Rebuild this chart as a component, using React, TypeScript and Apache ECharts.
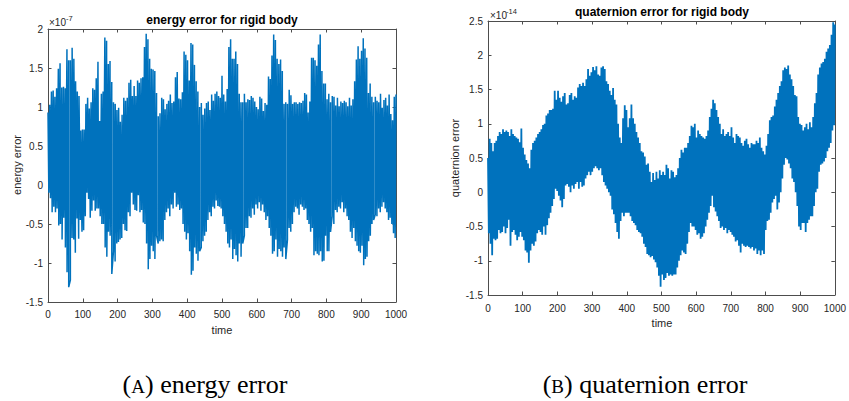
import React, { useEffect, useRef } from "react";
import * as echarts from "echarts";

// ---- data (upper / lower envelope samples, uniform in time 0..1000) ----
const energyHi = [
  0.93, 1.03, 1.2, 1.21, 1.13, 1.24, 1.49, 1.56, 1.25, 1.26, 1.24, 1.74, 1.6, 1.6, 1.76, 1.62, 1.33, 1.2, 1.14, 0.7,
  0.71, 0.71, 1.04, 1.12, 0.98, 1.06, 1.24, 1.22, 1.37, 1.58, 0.82, 1.17, 1.2, 1.89, 1.85, 1.55, 1.59, 1.32, 1.06, 1.04,
  0.96, 0.99, 0.81, 0.9, 1.12, 1.08, 1.12, 1.31, 1.35, 1.14, 1.27, 1.14, 1.34, 1.31, 1.37, 1.38, 1.77, 1.94, 1.87, 1.62,
  1.49, 1.48, 1.46, 1.18, 0.88, 0.92, 1.12, 1.1, 0.97, 1.04, 1.08, 1.16, 1.05, 1.07, 1.38, 1.45, 1.11, 1.1, 1.19, 1.71,
  1.67, 1.6, 1.34, 1.82, 1.8, 1.54, 1.33, 1.2, 1.0, 1.05, 0.9, 0.98, 1.05, 1.07, 0.96, 1.16, 1.08, 1.17, 1.2, 1.14,
  1.12, 1.4, 1.16, 1.07, 1.23, 1.77, 1.87, 1.62, 1.62, 1.71, 1.55, 1.17, 1.06, 1.06, 1.17, 1.06, 1.1, 1.09, 1.14, 1.12,
  1.07, 1.0, 0.97, 1.13, 1.11, 0.95, 1.05, 1.03, 1.39, 1.36, 1.66, 1.93, 1.86, 1.62, 1.55, 1.61, 1.46, 1.04, 1.06, 1.04,
  1.22, 1.15, 1.04, 1.06, 1.06, 1.04, 1.06, 1.05, 1.08, 1.18, 1.16, 0.93, 1.07, 1.63, 1.63, 1.6, 1.53, 1.8, 1.93, 1.46,
  1.3, 1.3, 1.1, 1.17, 1.06, 1.14, 1.13, 1.02, 1.12, 1.01, 1.07, 1.05, 1.08, 1.06, 1.01, 1.12, 1.02, 1.1, 1.33, 1.61,
  1.78, 1.62, 1.72, 1.88, 1.75, 1.63, 1.18, 1.3, 1.13, 1.06, 1.13, 1.08, 1.06, 1.17, 0.99, 1.09, 1.12, 1.02, 1.16, 0.91,
  0.83, 1.13, 1.16,
];
const energyLo = [
  -0.1, -0.17, -0.35, -0.28, -0.35, -0.3, -0.52, -0.5, -0.7, -0.42, -0.8, -1.12, -1.31, -1.22, -0.68, -0.7, -0.87, -0.43, -0.69, -0.45,
  -0.6, -0.58, -0.4, -0.1, -0.18, -0.42, -0.33, -0.2, -0.33, -0.3, -0.3, -0.4, -0.5, -0.5, -0.8, -0.92, -0.6, -0.65, -1.14, -0.85,
  -0.98, -0.75, -0.73, -0.7, -0.68, -0.5, -0.58, -0.59, -0.35, -0.4, -0.1, -0.25, -0.32, -0.33, -0.13, -0.35, -0.32, -0.48, -0.5, -0.75,
  -1.08, -0.95, -0.78, -0.85, -0.95, -0.65, -0.75, -0.72, -0.7, -0.72, -0.45, -0.35, -0.3, -0.4, -0.25, -0.3, -0.1, -0.28, -0.25, -0.32,
  -0.3, -0.5, -0.6, -0.7, -0.62, -0.85, -1.15, -1.1, -0.8, -0.88, -0.97, -0.85, -0.8, -0.72, -0.65, -0.6, -0.45, -0.35, -0.4, -0.28,
  -0.3, -0.2, -0.27, -0.28, -0.3, -0.4, -0.5, -0.6, -0.75, -0.8, -0.7, -0.95, -0.82, -0.9, -0.98, -0.75, -0.92, -0.75, -0.65, -0.55,
  -0.55, -0.4, -0.42, -0.3, -0.38, -0.25, -0.3, -0.22, -0.33, -0.25, -0.35, -0.45, -0.4, -0.55, -0.65, -0.88, -0.85, -0.7, -0.92, -0.82,
  -0.85, -0.92, -0.8, -0.95, -0.7, -0.55, -0.6, -0.5, -0.35, -0.28, -0.3, -0.38, -0.25, -0.28, -0.32, -0.3, -0.45, -0.5, -0.6, -0.55,
  -0.9, -0.85, -0.88, -0.9, -0.85, -0.98, -0.97, -0.65, -0.85, -0.85, -0.6, -0.4, -0.5, -0.32, -0.35, -0.28, -0.3, -0.22, -0.35, -0.3,
  -0.4, -0.45, -0.6, -0.68, -0.55, -0.72, -0.78, -0.85, -0.87, -0.78, -1.03, -0.95, -0.92, -0.72, -0.65, -0.5, -0.45, -0.38, -0.4, -0.3,
  -0.35, -0.28, -0.22, -0.3, -0.35, -0.45, -0.42, -0.5, -0.62, -0.68,
];
const quatHi = [
  0.5, 0.78, 0.72, 0.6, 0.72, 0.75, 0.82, 0.88, 0.85, 0.92, 0.88, 0.9, 0.88, 0.82, 0.92, 0.85, 0.82, 0.8, 0.78, 0.73,
  0.93, 0.65, 0.55, 0.47, 0.42, 0.35, 0.62, 0.72, 0.75, 0.8, 0.85, 0.88, 0.92, 0.98, 1.0, 1.12, 1.15, 1.2, 1.2, 1.22,
  1.48, 1.35, 1.48, 1.38, 1.32, 1.4, 1.45, 1.28, 1.3, 1.42, 1.45, 1.35, 1.4, 1.38, 1.53, 1.58, 1.55, 1.6, 1.55, 1.65,
  1.8, 1.7, 1.75, 1.83, 1.78, 1.84, 1.72, 1.7, 1.82, 1.84, 1.8, 1.62, 1.58, 1.48, 1.42, 1.52, 1.35, 1.28, 1.0, 0.8,
  0.72, 1.08, 1.27, 1.2, 0.95, 1.08, 1.28, 1.08, 1.0, 0.88, 0.8, 0.72, 0.6, 0.58, 0.52, 0.4, 0.42, 0.3, 0.15, 0.28,
  0.18, 0.3, 0.2, 0.32, 0.25, 0.3, 0.25, 0.4, 0.35, 0.2, 0.32, 0.3, 0.22, 0.25, 0.35, 0.5, 0.62, 0.58, 0.65, 0.65,
  0.72, 0.82, 0.97, 0.95, 1.0, 0.8, 0.9, 0.85, 0.82, 0.8, 0.78, 0.82, 0.9, 1.1, 1.22, 1.35, 1.3, 1.2, 1.1, 1.0,
  0.85, 0.92, 0.82, 0.85, 0.88, 0.82, 0.95, 0.8, 0.72, 0.85, 0.82, 0.8, 0.72, 0.68, 0.75, 0.78, 0.7, 0.65, 0.72, 0.7,
  0.7, 0.75, 0.72, 0.8, 0.65, 0.6, 0.55, 0.68, 0.85, 1.05, 1.1, 1.12, 1.25, 1.35, 1.45, 1.55, 1.62, 1.78, 1.82, 1.8,
  1.85, 1.72, 1.65, 1.55, 1.42, 1.4, 1.1, 1.0, 0.98, 0.9, 0.95, 1.0, 0.92, 1.02, 0.95, 1.1, 1.3, 1.45, 1.72, 1.82,
  1.88, 1.9, 1.95, 2.05, 2.1, 2.15, 2.3, 2.48, 2.45,
];
const quatLo = [
  -0.6, -0.75, -0.92, -0.68, -0.7, -0.68, -0.55, -0.6, -0.58, -0.5, -0.6, -0.52, -0.4, -0.78, -0.58, -0.55, -0.62, -0.7, -0.65, -0.58,
  -0.65, -0.7, -0.85, -0.88, -1.03, -0.85, -0.75, -0.78, -0.72, -0.6, -0.55, -0.58, -0.62, -0.5, -0.62, -0.48, -0.38, -0.3, -0.2, -0.1,
  0.05, 0.02, -0.05, -0.12, -0.22, -0.1, 0.1, 0.12, 0.08, 0.0, 0.1, 0.05, 0.12, 0.15, 0.05, 0.15, 0.08, 0.1, 0.2, 0.25,
  0.3, 0.25, 0.3, 0.35, 0.38, 0.35, 0.32, 0.35, 0.25, 0.15, 0.1, 0.05, 0.0, -0.05, -0.25, -0.32, -0.45, -0.58, -0.68, -0.42,
  -0.3, -0.35, -0.3, -0.3, -0.3, -0.35, -0.42, -0.45, -0.48, -0.55, -0.58, -0.6, -0.65, -0.75, -0.8, -0.9, -0.92, -0.95, -0.93, -0.98,
  -1.02, -1.1, -1.22, -1.38, -1.2, -1.28, -1.25, -1.18, -1.22, -1.2, -1.22, -1.2, -1.2, -1.1, -1.0, -0.92, -0.85, -0.88, -0.9, -0.75,
  -0.58, -0.45, -0.5, -0.5, -0.55, -0.62, -0.6, -0.68, -0.65, -0.6, -0.5, -0.4, -0.3, -0.2, -0.05, -0.22, -0.28, -0.35, -0.42, -0.52,
  -0.5, -0.55, -0.52, -0.6, -0.55, -0.58, -0.62, -0.65, -0.72, -0.7, -0.78, -0.88, -0.75, -0.78, -0.8, -0.78, -0.8, -0.82, -0.8, -0.85,
  -0.82, -0.9, -0.85, -0.92, -0.85, -0.9, -0.55, -0.42, -0.4, -0.3, -0.15, -0.1, -0.05, -0.25, -0.15, 0.0, 0.2, 0.4, 0.5, 0.48,
  0.42, 0.35, 0.2, 0.15, 0.0, -0.2, -0.5, -0.55, -0.45, -0.45, -0.58, -0.45, -0.4, -0.35, -0.35, -0.2, 0.0, 0.05, 0.3, 0.4,
  0.42, 0.45, 0.5, 0.6, 0.65, 0.72, 0.9, 0.98,
];

const timeMin = 0;
const timeMax = 1000;
const timeStep = 100;
const energyYMin = -1.5;
const energyYMax = 2;
const quatYMin = -1.5;
const quatYMax = 2.5;
const yStep = 0.5;

const titles = ["energy error for rigid body", "quaternion error for rigid body"];
const yNames = ["energy error", "quaternion error"];
const xName = "time";
const exponents = ["-7", "-14"];
const captions = [
  { letter: "A", text: ") energy error" },
  { letter: "B", text: ") quaternion error" },
];

const LINE_COLOR = "#0072BD";
const TEXT_COLOR = "#262626";
const AXIS_COLOR = "#4d4d4d";
const FONT = "Liberation Sans";

// interleave upper and lower samples so the line sweeps between them (as the dense signal does)
function zigzag(hi: number[], lo: number[]): number[][] {
  const pts: number[][] = [];
  hi.forEach((v, i) => pts.push([timeMin + (i * (timeMax - timeMin)) / (hi.length - 1), v]));
  lo.forEach((v, j) => pts.push([timeMin + ((j + 0.5) * (timeMax - timeMin)) / lo.length, v]));
  pts.sort((a, b) => a[0] - b[0]);
  return pts;
}

function xAxis(grid: number, position: "top" | "bottom", labels: boolean, margin: number) {
  return {
    type: "value",
    gridIndex: grid,
    position,
    min: timeMin,
    max: timeMax,
    interval: timeStep,
    axisLine: { show: true, onZero: false, lineStyle: { color: AXIS_COLOR, width: 1 } },
    axisTick: { show: true, inside: true, length: 3.5, lineStyle: { color: AXIS_COLOR, width: 1 } },
    axisLabel: {
      show: labels,
      margin,
      fontSize: 10,
      color: TEXT_COLOR,
      fontFamily: FONT,
      showMinLabel: true,
      showMaxLabel: true,
      formatter: (v: number) => String(v),
    },
    splitLine: { show: false },
  };
}

function yAxis(grid: number, position: "left" | "right", labels: boolean, min: number, max: number) {
  return {
    type: "value",
    gridIndex: grid,
    position,
    min,
    max,
    interval: yStep,
    axisLine: { show: true, onZero: false, lineStyle: { color: AXIS_COLOR, width: 1 } },
    axisTick: { show: true, inside: true, length: 3.5, lineStyle: { color: AXIS_COLOR, width: 1 } },
    axisLabel: {
      show: labels,
      margin: 5,
      fontSize: 10,
      color: TEXT_COLOR,
      fontFamily: FONT,
      showMinLabel: true,
      showMaxLabel: true,
      formatter: (v: number) => String(v),
    },
    splitLine: { show: false },
  };
}

function txt(text: string, x: number, y: number, font: string, extra: any = {}) {
  return {
    type: "text",
    x,
    y,
    silent: true,
    ...extra,
    style: {
      text,
      font,
      fill: extra.fill || TEXT_COLOR,
      align: extra.align || "center",
      verticalAlign: "middle",
      textAlign: extra.align || "center",
      textVerticalAlign: "middle",
    },
  };
}

export default function App() {
  const ref = useRef<HTMLDivElement>(null);

  useEffect(() => {
    if (!ref.current) return;
    const chart = echarts.init(ref.current, undefined, { renderer: "svg" });

    const captionElems = captions.map((c, i) => ({
      type: "text",
      x: i === 0 ? 205 : 645,
      y: 383,
      silent: true,
      style: {
        text: `{n|(}{s|${c.letter}}{n|${c.text}}`,
        align: "center",
        verticalAlign: "middle",
        textAlign: "center",
        textVerticalAlign: "middle",
        fill: "#000",
        rich: {
          n: { fontFamily: "Liberation Serif", fontSize: 26, color: "#1a1a1a", verticalAlign: "bottom", lineHeight: 28 },
          s: { fontFamily: "Liberation Serif", fontSize: 19, color: "#1a1a1a", verticalAlign: "bottom", lineHeight: 28, padding: [0, 0, 1, 0] },
        },
      },
    }));

    chart.setOption({
      animation: false,
      backgroundColor: "#ffffff",
      grid: [
        { left: 48, top: 29, width: 348, height: 273, containLabel: false },
        { left: 488, top: 21, width: 348, height: 274, containLabel: false },
      ],
      xAxis: [
        xAxis(0, "bottom", true, 7),
        xAxis(0, "top", false, 7),
        xAxis(1, "bottom", true, 8),
        xAxis(1, "top", false, 8),
      ],
      yAxis: [
        yAxis(0, "left", true, energyYMin, energyYMax),
        yAxis(0, "right", false, energyYMin, energyYMax),
        yAxis(1, "left", true, quatYMin, quatYMax),
        yAxis(1, "right", false, quatYMin, quatYMax),
      ],
      series: [
        {
          type: "line",
          name: "energy error",
          xAxisIndex: 0,
          yAxisIndex: 0,
          data: zigzag(energyHi, energyLo),
          showSymbol: false,
          symbol: "none",
          clip: true,
          silent: true,
          lineStyle: { color: LINE_COLOR, width: 1.5, join: "bevel" },
        },
        {
          type: "line",
          name: "quaternion error",
          xAxisIndex: 2,
          yAxisIndex: 2,
          data: zigzag(quatHi, quatLo),
          showSymbol: false,
          symbol: "none",
          clip: true,
          silent: true,
          lineStyle: { color: LINE_COLOR, width: 1.8, join: "bevel" },
        },
      ],
      graphic: [
        txt(titles[0], 222, 20, `bold 12px "${FONT}"`, { fill: "#000" }),
        txt(titles[1], 662, 12, `bold 12px "${FONT}"`, { fill: "#000" }),
        txt("\u00d710", 49, 22, `10px "${FONT}"`, { align: "left" }),
        txt(exponents[0], 66, 18, `7.5px "${FONT}"`, { align: "left" }),
        txt("\u00d710", 490, 15, `10px "${FONT}"`, { align: "left" }),
        txt(exponents[1], 506, 11, `7.5px "${FONT}"`, { align: "left" }),
        txt(yNames[0], 17, 165, `11px "${FONT}"`, { rotation: Math.PI / 2 }),
        txt(yNames[1], 455, 158, `11px "${FONT}"`, { rotation: Math.PI / 2 }),
        txt(xName, 222, 330, `11px "${FONT}"`),
        txt(xName, 662, 323, `11px "${FONT}"`),
        ...captionElems,
      ],
    });

    return () => chart.dispose();
  }, []);

  return (
    <div
      ref={ref}
      style={{ position: "fixed", left: 0, top: 0, width: 849, height: 401, background: "#fff" }}
    />
  );
}
